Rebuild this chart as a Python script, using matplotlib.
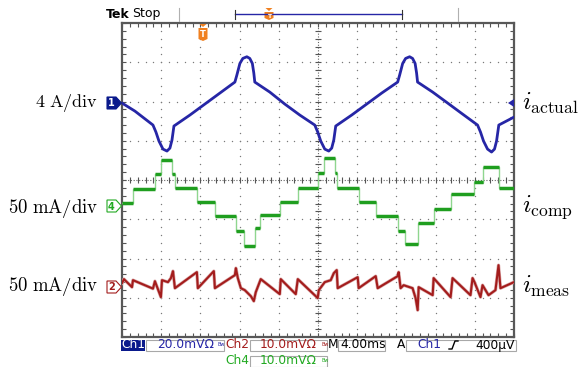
import numpy as np
import matplotlib
matplotlib.use("Agg")
import matplotlib.pyplot as plt
from matplotlib.patches import Polygon, Rectangle

plt.rcParams['mathtext.fontset'] = 'cm'

# scope settings
ms_per_div = 4.0
ch1_scale, ch1_pos = 4.0, 1.96     # A/div, ground position in div
ch4_scale, ch4_pos = 50.0, -0.66   # mA/div
ch2_scale, ch2_pos = 50.0, -2.73   # mA/div

# ch1: actual current (A)
t_ch1 = [0.00, 1.32, 3.16, 3.46, 3.77, 4.18, 4.59, 4.89, 5.10, 5.30, 6.93, 8.46, 9.99, 11.52,
         11.72, 12.03, 12.33, 12.74, 13.04, 13.30, 13.45, 13.55, 15.08, 16.61, 18.14, 19.67,
         19.97, 20.28, 20.69, 21.10, 21.40, 21.61, 21.81, 23.44, 24.97, 26.50, 28.13,
         28.33, 28.64, 28.94, 29.35, 29.65, 29.91, 30.06, 30.16, 31.70, 33.23, 34.75, 36.28,
         36.58, 36.89, 37.30, 37.71, 38.01, 38.22, 38.45, 40.00]
i_ch1 = [0.00, -0.82, -2.24, -2.95, -3.87, -4.69, -4.89, -4.59, -3.77, -2.34, -1.22, -0.10, 1.02, 2.14,
         2.85, 4.04, 4.55, 4.72, 4.55, 4.04, 3.06, 2.14, 1.12, -0.10, -1.22, -2.24,
         -2.95, -3.87, -4.69, -4.89, -4.59, -3.77, -2.34, -1.22, -0.10, 1.02, 2.14,
         2.85, 4.04, 4.55, 4.72, 4.55, 4.04, 3.06, 2.14, 1.12, 0.00, -1.12, -2.24,
         -2.95, -3.87, -4.69, -4.99, -4.69, -3.87, -2.24, -1.43]

# ch4: compensation current, staircase (mA)
t_ch4_edges = [0.00, 1.12, 3.36, 3.97, 5.10, 5.40, 7.64, 9.48, 11.62, 12.43, 13.55, 14.06, 16.10,
               17.94, 19.97, 20.59, 21.71, 21.91, 24.15, 25.89, 28.13, 28.84, 30.17, 31.80,
               33.53, 35.87, 36.79, 38.52, 40.00]
i_ch4_levels = [3.8, 21.7, 40.8, 58.6, 40.8, 22.9, 5.1, -12.7, -31.9, -51.0, -28.0, -11.5, 5.1,
                22.9, 42.0, 61.2, 42.0, 22.9, 5.1, -12.7, -31.9, -48.4, -21.7, -3.8, 15.3,
                30.6, 49.7, 22.9]

# ch2: measured current (mA)
t_ch2 = [0.00, 0.20, 1.02, 1.12, 3.16, 3.36, 3.97, 4.08, 4.69, 4.99, 5.20, 5.40, 7.64, 7.74,
         9.37, 9.48, 11.52, 11.62, 11.82, 12.13, 12.53, 13.15, 13.45, 13.65, 14.16, 16.10,
         16.20, 17.73, 17.94, 19.77, 19.97, 20.08, 20.69, 21.30, 21.61, 21.91, 22.01, 24.05,
         24.15, 25.89, 26.09, 28.13, 28.23, 28.43, 28.74, 29.65, 29.96, 30.17, 30.27, 31.70,
         31.80, 33.53, 33.73, 35.56, 35.77, 35.97, 36.58, 36.79, 37.40, 38.11, 38.42, 38.62, 40.00]
i_ch2 = [5.1, 10.2, 0.0, 8.9, -1.9, 7.6, -12.7, 8.9, 6.4, 11.5, 20.4, -1.3, 19.1, -1.3,
         20.4, -1.3, 15.3, 24.2, 11.5, -1.3, -3.8, -11.5, -17.8, -6.4, 10.2, -8.9,
         10.2, -8.9, 10.2, -11.5, -14.0, -3.8, 6.4, 8.9, 17.8, 21.7, -1.3, 12.7,
         -1.3, 14.0, -1.3, 14.0, 19.1, -1.3, 2.5, -1.3, -14.0, -29.3, 0.0, -10.2,
         11.5, -12.7, 11.5, -10.2, 11.5, 6.4, -12.7, 2.5, -10.2, -3.8, 28.0, -1.3, 6.4]

blue = '#2626a6'
green = '#1f9e1f'
red = '#a31c1c'
navy = '#0a1a8c'
gridc = '#7a7a7a'

fig = plt.figure(figsize=(5.87, 3.67), dpi=100)
ax = fig.add_axes([122/587, 30/367, 392/587, 314/367])
ax.set_xlim(0, 10)
ax.set_ylim(-4, 4)

# graticule
pts = np.arange(0, 10.001, 0.2)
for gx in range(1, 10):
    if gx != 5:
        ax.scatter(np.full(41, gx), np.arange(-4, 4.001, 0.2), s=1.0, color=gridc, lw=0, zorder=1)
for gy in range(-3, 4):
    if gy != 0:
        ax.scatter(pts, np.full(len(pts), gy), s=1.0, color=gridc, lw=0, zorder=1)
ax.plot([0, 10], [0, 0], color='#666666', lw=0.8, ls=(0, (1, 1.5)), zorder=1)
ax.plot([5, 5], [-4, 4], color='#666666', lw=0.8, ls=(0, (1, 1.5)), zorder=1)
ax.plot(pts, np.zeros(len(pts)), ls='none', marker='|', ms=4, mew=0.8, color='#555555', zorder=1)
ax.plot(np.full(41, 5), np.arange(-4, 4.001, 0.2), ls='none', marker='_', ms=4, mew=0.8,
        color='#555555', zorder=1)

for sp in ax.spines.values():
    sp.set_color('#585858')
    sp.set_linewidth(1.6)
ax.set_xticks(np.arange(0, 10.01, 1))
ax.set_yticks(np.arange(-4, 4.01, 1))
ax.set_xticks(pts, minor=True)
ax.set_yticks(np.arange(-4, 4.001, 0.2), minor=True)
ax.tick_params(which='both', direction='in', length=3, width=0.8, color='#555555',
               top=True, right=True, labelbottom=False, labelleft=False)

# traces
x1 = np.array(t_ch1) / ms_per_div
y1 = ch1_pos + np.array(i_ch1) / ch1_scale
ax.plot(x1, y1, color=blue, lw=2.0, solid_joinstyle='round', zorder=4)

e4 = np.array(t_ch4_edges) / ms_per_div
l4 = ch4_pos + np.array(i_ch4_levels) / ch4_scale
ax.step(e4, np.append(l4, l4[-1]), where='post', color='#8fd68f', lw=1.0, zorder=3)
ax.hlines(l4, e4[:-1], e4[1:], color=green, lw=2.5, zorder=4)

x2 = np.array(t_ch2) / ms_per_div
y2 = ch2_pos + np.array(i_ch2) / ch2_scale
ax.plot(x2, y2, color='#dba8a8', lw=2.4, zorder=3)
ax.plot(x2, y2, color=red, lw=1.5, zorder=4)

# overlay in pixel coordinates for the scope annotations
ov = fig.add_axes([0, 0, 1, 1], zorder=5)
ov.set_xlim(0, 587)
ov.set_ylim(367, 0)
ov.axis('off')
ov.patch.set_alpha(0)

# top bar
ov.text(106, 14, 'Tek', fontsize=9, fontweight='bold', va='center', ha='left', color='black')
ov.text(132, 14, 'Stop', fontsize=9, va='center', ha='left', color='black')
for xs in (179, 458):
    ov.plot([xs, xs], [8, 21], color='#b0b0b0', lw=0.8)
ov.plot([235, 402], [14, 14], color=blue, lw=1.0)
for xs in (235, 402):
    ov.plot([xs, xs], [10, 19], color='#333333', lw=0.8)


def trig_marker(x, y0, h):
    ov.add_patch(Polygon([[x - 3.5, y0], [x + 3.5, y0], [x, y0 + 3]], closed=True,
                         color='#f08020', lw=0))
    ov.add_patch(Polygon([[x - 4.5, y0 + 4], [x + 4.5, y0 + 4], [x + 4.5, y0 + h - 2],
                          [x, y0 + h], [x - 4.5, y0 + h - 2]], closed=True, color='#f08020', lw=0))
    ov.text(x, y0 + 4 + (h - 4) / 2, 'T', fontsize=6 if h > 12 else 4.5, color='white',
            ha='center', va='center', fontweight='bold')


trig_marker(269, 8, 12)
trig_marker(203, 24, 17)


def ch_marker(y, num, col, filled):
    pts_m = [[107, y - 6], [116, y - 6], [121.5, y], [116, y + 6], [107, y + 6]]
    ov.add_patch(Polygon(pts_m, closed=True, facecolor=col if filled else 'white',
                         edgecolor=col, lw=0.8))
    ov.text(111.5, y + 0.5, num, fontsize=7, fontweight='bold', ha='center', va='center',
            color='white' if filled else col)


ch_marker(103, '1', navy, True)
ch_marker(206, '4', '#22aa22', False)
ch_marker(287, '2', red, False)
ov.add_patch(Polygon([[508, 103], [514, 99], [514, 107]], closed=True, color=blue, lw=0))

# side labels
ov.text(98, 103, r'$4\ \mathrm{A/div}$', fontsize=13, ha='right', va='center')
ov.text(98, 208, r'$50\ \mathrm{mA/div}$', fontsize=13.5, ha='right', va='center')
ov.text(98, 287, r'$50\ \mathrm{mA/div}$', fontsize=13.5, ha='right', va='center')
ov.text(522, 103, r'$i_{\mathrm{actual}}$', fontsize=18, ha='left', va='center')
ov.text(522, 207, r'$i_{\mathrm{comp}}$', fontsize=18, ha='left', va='center')
ov.text(522, 286, r'$i_{\mathrm{meas}}$', fontsize=18, ha='left', va='center')

# bottom status bar
fs = 8.8
boxc = '#a8a8a8'
ov.add_patch(Rectangle((121, 339.5), 24, 11, color=navy, lw=0))
ov.text(133, 345, 'Ch1', fontsize=fs, color='white', ha='center', va='center')
for (bx, by, bw) in [(146, 339.5, 78), (250, 339.5, 77), (338, 339.5, 47), (406, 339.5, 110),
                     (250, 355.5, 77)]:
    ov.add_patch(Rectangle((bx, by), bw, 11, fill=False, edgecolor=boxc, lw=0.8))
ov.text(157, 345, '20.0mV\u03a9', fontsize=fs, color=blue, ha='left', va='center')
ov.text(218, 344, 'Bw', fontsize=3.5, color=blue, ha='left', va='center')
ov.text(225, 345, 'Ch2', fontsize=fs, color=red, ha='left', va='center')
ov.text(260, 345, '10.0mV\u03a9', fontsize=fs, color=red, ha='left', va='center')
ov.text(321, 344, 'Bw', fontsize=3.5, color=red, ha='left', va='center')
ov.text(328, 345, 'M', fontsize=fs, color='black', ha='left', va='center')
ov.text(340, 345, '4.00ms', fontsize=fs, color='black', ha='left', va='center')
ov.text(397, 345, 'A', fontsize=fs, color='black', ha='left', va='center')
ov.text(417, 345, 'Ch1', fontsize=fs, color=blue, ha='left', va='center')
ov.plot([449, 452, 455, 458], [349, 349, 341, 341], color='black', lw=1.0)
ov.text(475, 345, '400\u00b5V', fontsize=fs, color='black', ha='left', va='center')
ov.text(225, 361, 'Ch4', fontsize=fs, color='#22aa22', ha='left', va='center')
ov.text(260, 361, '10.0mV\u03a9', fontsize=fs, color='#22aa22', ha='left', va='center')
ov.text(321, 360, 'Bw', fontsize=3.5, color='#22aa22', ha='left', va='center')

fig.savefig('out.png', dpi=100)
